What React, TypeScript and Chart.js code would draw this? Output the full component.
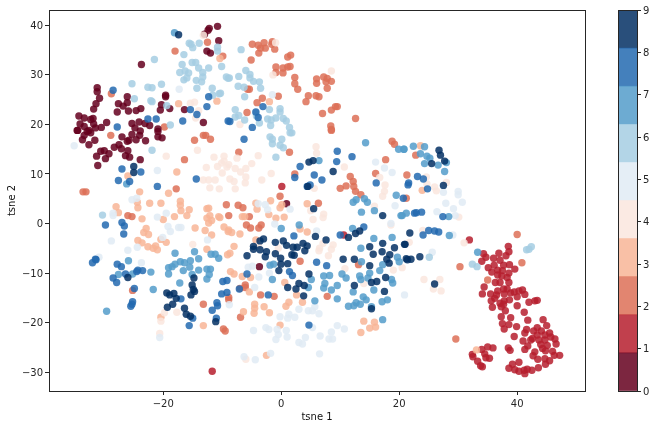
import React, { useEffect, useRef } from "react";
import { Chart, registerables } from "chart.js";

Chart.register(...registerables);

type P = [number, number];

const class0: P[] = [[-10.8,39.8],[-12.2,39.4],[-12.4,39],[-13,38.2],[-10.6,36.9],[-12.6,34.8],[-12,34.4],[-23.7,32.1],[-31.2,27.4],[-31.2,26.6],[-30.8,25.3],[-31.4,24.2],[-31.8,23.1],[-26.1,25.6],[-26.1,24.4],[-27.6,24.2],[-26.8,23.7],[-27.8,22.5],[-25.9,22.7],[-24.6,22.8],[-23.8,23.2],[-19.6,25.9],[-19.6,25.6],[-20.3,24],[-20.5,22.9],[-18.9,23.2],[-16.4,23],[-13.2,20.4],[-34.3,21.7],[-33.4,21.3],[-32.3,21],[-31.9,21.2],[-34.1,20.1],[-33.4,19.6],[-31.8,20.1],[-29.6,20.4],[-34.5,18.8],[-32.6,18.8],[-31.5,19.3],[-30.5,19.4],[-25.3,20.2],[-24.1,20.5],[-23.1,20.2],[-22.3,19.8],[-20.9,19.1],[-24.8,19.3],[-23.9,18.7],[-34.6,18.8],[-32.9,18.6],[-33.4,17.8],[-33.7,16.9],[-32.3,18.3],[-31.6,16.8],[-32.6,15.9],[-30.6,14.6],[-30,14.7],[-29.2,14.1],[-31.3,13.6],[-29.8,13.1],[-31.1,11.7],[-27,17.5],[-25.3,18],[-26.1,16.6],[-25.8,16.8],[-27.5,15.9],[-28.3,15.4],[-27.1,15.1],[-26,14.7],[-26.4,13.7],[-25.7,13.4],[-23.9,12.9],[-24,17.8],[-24.6,16.9],[-23,16.7],[-20.9,18.6],[-20.9,17.5],[-20.2,17.3],[0.9,4],[-3.7,-8.7]];

const class1: P[] = [[38.5,-4.6],[38.6,-5.7],[36.9,-6],[38.1,-6.5],[34.3,-6.1],[34.7,-6.8],[34,-7.6],[36,-7],[37.1,-7.4],[36.1,-8.4],[37.7,-8.4],[38.7,-8.3],[39.6,-9.2],[35.1,-8.9],[35.7,-9.8],[36.7,-9.4],[37.5,-9.5],[36.7,-10.4],[37.4,-10.6],[38.6,-10],[38.3,-10.9],[36.3,-11.9],[37.1,-11.9],[38.6,-11.9],[34.4,-12.8],[37.7,-13.2],[38.3,-13.2],[36.7,-13.6],[39.5,-13.8],[40.3,-13.6],[40.9,-13.4],[34.1,-14.2],[35.5,-14.2],[36.5,-14.4],[37.8,-14.2],[38.9,-14],[41.3,-14.3],[40,-14.8],[36.2,-15.1],[35.6,-15.6],[38.7,-15.4],[37.8,-15.6],[37.1,-16.1],[37.7,-16.3],[42,-15.9],[43,-15.6],[43.4,-15.5],[35.8,-16.9],[37.3,-16.8],[40,-16.6],[38,-17.6],[41.2,-17.9],[37.3,-18.8],[38.9,-19],[41.8,-19.5],[44.4,-19.4],[37.5,-20.2],[38.6,-20.4],[39.9,-20.8],[45,-20.6],[37.8,-21.3],[41.6,-21.4],[41.3,-22.1],[43.4,-21],[42.8,-21.7],[44.1,-21.7],[45.5,-22.1],[39.5,-22.8],[42.6,-23.2],[43.4,-22.5],[44.7,-22.5],[45.7,-22.9],[46.4,-23.3],[41,-23.7],[42.3,-23.5],[43.7,-23.5],[44.7,-23.5],[46.6,-24.3],[41.8,-24.7],[44,-24.4],[45.1,-24.6],[41.3,-25.4],[44.3,-25.2],[44.8,-25.7],[46,-25.8],[43,-25.9],[42.7,-26.7],[46.3,-26.6],[47.2,-26.6],[43.5,-27.4],[44.7,-27.3],[45.5,-27.7],[34,-25.4],[35,-24.9],[35.9,-25.1],[38.5,-25.1],[38.8,-25.6],[34.5,-26.3],[32.4,-26.4],[32.5,-26.9],[34.7,-27.1],[35.3,-27.2],[33.3,-27.8],[33.8,-28.7],[34.1,-28.9],[44.8,-28.4],[40.3,-28],[39.2,-28.4],[43.6,-29.1],[38.6,-29.2],[39.6,-29.5],[40.3,-29.8],[41.2,-29.6],[41.7,-29.4],[42.5,-29.6],[41.3,-30.3],[-11.7,-29.8],[0.1,7.5],[10.6,-2.3],[31.9,-3.3]];

const class2: P[] = [[-4.9,36.2],[-3.9,36],[-2.9,36.5],[-3.5,35.4],[-2.7,35.4],[-1.5,36.7],[-1.6,36.2],[-1.1,35.2],[-3.8,34.4],[-5.1,33],[1.6,34],[1.1,33.6],[-0.9,31.6],[0.3,31.4],[1.1,31.6],[1.5,31.7],[-0.9,30.5],[0.3,30.4],[2.3,29.5],[2.3,28.2],[2.8,27.1],[6,29.2],[6,28.3],[7.2,29.6],[7.8,29.3],[7.6,28.6],[8.5,28.7],[7.8,27.3],[4.6,25.8],[4.2,24.6],[5.9,25.8],[6.4,25.6],[-0.5,25.7],[-5.4,27.1],[-5.7,27.1],[-3.2,25.3],[-4.1,24.4],[-5.8,22.4],[7,22.2],[8.5,22.9],[9.2,23.6],[9.5,23.6],[12.6,21.2],[8.4,19.7],[8.5,19],[-9.9,33.8],[-18,34.8],[-12.5,36.6],[-28.8,26.2],[-19.8,19.5],[-33.6,6.4],[-33.1,6.4],[-28.9,17.8],[-14.7,16.8],[-13.2,17.8],[-12.8,17.8],[-12,17],[-16.4,12.9],[-17.8,7],[-9.3,3.8],[-26,1.6],[-25.3,1.4],[-8.9,1.6],[-7.2,14.4],[1.4,14.4],[2.3,10],[-0.2,5.5],[6.3,4.1],[-7.3,3.7],[-6.5,3.2],[-5.4,1.4],[-5.9,-0.3],[-5.2,-0.9],[-3.4,-0.3],[-3.8,-0.9],[8.5,18.8],[18.8,16.6],[19.2,16],[17.7,12.9],[16,10.1],[11.7,9.5],[12.2,8.5],[11,7.6],[10,7.1],[12.3,7.5],[12.6,6.5],[13.5,5.8],[22.8,13.8],[21.3,9.8],[21.2,5.1],[40,-2.2],[40.8,-7.9],[30.3,-8.7],[35,-11.4],[29.6,-23.3],[-25.2,-13.5],[-13.2,-16.3],[-9.8,-21.3],[-9.5,-21.7],[-8.9,-15.4],[-8.9,-14.9],[3.2,-7.6],[13.1,-8.3],[-6.1,-12.4],[-7,-13.1],[-6.1,-12.9],[-3.5,-14.4],[-1.2,-14.7],[7.8,-14.7],[-6.9,-18.9]];

const class3: P[] = [[-17.7,10.4],[-26,9.6],[-24,6.4],[-19.1,6.1],[-28,3.4],[-27.6,2.2],[-24.4,4.3],[-24.3,3.2],[-22.3,4.1],[-20.4,4.1],[-17.1,4.5],[-17.1,3.7],[-17,2.6],[-15.6,2.8],[-23.6,0.95],[-20,0.8],[-18.1,1.4],[-16,1.6],[-12.6,3],[-12.3,3.1],[-12.6,1.1],[-12.1,1.6],[-11.8,0.6],[-12.3,0.1],[-10.6,1.4],[-10.4,1.2],[-14.6,-0.9],[-12.9,-1.4],[-11.8,-2.3],[-9.7,-0.7],[-9,-1.6],[-22.9,-1],[-23.3,-1.8],[-22.5,-2.2],[-20.4,-3.2],[-19.5,-3.8],[-24.3,-3.4],[-23.6,-3.9],[-22.6,-4.7],[-21.3,-4.5],[-21.7,-5],[-21,-5.3],[-12.6,-5.2],[-1.8,4.6],[4.4,4],[-4.3,4.1],[-4.1,2.9],[-2.1,1.8],[-0.2,3.2],[0.1,3.8],[-0.9,1.1],[0.5,1.3],[-6.6,1.4],[-6.2,1.4],[-8.9,-1.3],[-8.4,-1.8],[-7,-2.1],[3.2,-1.1],[4.4,-1.7],[-4.3,-3.3],[-8,-4.6],[-8.7,-6],[-9.1,-6.3],[-2,24.6],[-17.4,24.2],[-10.9,24.7],[-10.4,33.3],[23.6,15.7],[23.9,6.7],[33.1,-25.5],[-8.6,-9.7],[-8,-10.2],[-6.6,-10.7],[-5.2,-10.9],[-5.4,-13.8],[0.6,-11.9],[2.6,-14.4],[1.3,-15.9],[0.8,-16.7],[3.6,-15.9],[-4.5,-16.3],[-4.5,-17.1],[-4.6,-18.1],[-2.9,-16.8],[-2,-18],[-6.4,-17.8],[-0.2,-20.5],[14,-19.7],[15.8,-19.9],[16,-20.9],[15,-21.1],[13.5,-22],[-2.5,-26.6],[-20.4,-18.9],[-13.2,-20.6]];

const class4: P[] = [[-19.5,13.6],[-14.2,14.8],[-11.4,13.4],[-9.7,13.6],[-9.7,12.6],[-10.8,11.5],[-12.7,11.3],[-9.2,11.4],[-10,10.2],[-13.2,8.8],[-12.3,8.8],[-11.2,8.8],[-12.1,7.2],[-10.5,7],[-15,-4.2],[5.9,15.5],[6,14.2],[-10.1,12.2],[-8.9,11.9],[-7.5,13.2],[-3.9,13.7],[-5,12.1],[-7.8,11.1],[-6,11.1],[-6.9,10.4],[-8.7,9],[-8,8.5],[-6,9.4],[-6.1,8.2],[-7.8,7],[-3.3,8.8],[-1.7,10.1],[5.6,7.1],[10.7,11.4],[16.7,9.3],[17.6,7.8],[17.5,6.5],[17.2,5.5],[15.8,3.5],[5,2.6],[7.2,1.9],[7.1,1.2],[5.4,0.8],[18.6,-0.3],[7.1,-4],[6.5,-5],[8.8,-4.3],[8.5,-5.2],[-0.5,-5],[-3.9,-4.4],[24.6,9.4],[24.7,8],[28,8.3],[26,7.4],[26.3,6.6],[30.1,1.3],[24,-1.4],[21.7,-3.8],[31,-3.9],[-13.2,38],[-15.4,24.3],[-14.7,24.5],[-14.5,21.3],[-14,22.8],[-0.95,36.5],[8.5,30.8],[-1.4,30],[-7,20],[8,-6.5],[10.8,-9.1],[14,-12.1],[19,-9.4],[20.5,-8.9],[6.4,-5.5],[-19.8,-18],[-20.4,-19.7],[-17.7,-17.9],[-20.6,-22.2],[26.9,-11.3],[27.1,-13.6],[-6,-27.4],[24.2,-11.3],[25.8,-13.2],[26,-12.2]];

const class5: P[] = [[-35.1,15.7],[-21,10.7],[-25.3,4.8],[-24.5,5.1],[-28.5,2.1],[-28.5,1.6],[-28.8,-3.5],[-26,-5.4],[-24.4,-4.8],[-21,1.3],[-19.5,2.1],[-19.2,-0.6],[-18.8,-1.6],[-17.4,-0.8],[-17,-0.8],[-20.1,-2.8],[-12.5,-3.3],[-30.9,-6.8],[-3.9,4],[-2.7,3.8],[-2.3,2.8],[1.5,2.9],[-1.1,-0.1],[6,-1.5],[16,12.4],[17.5,11.2],[18.8,10.3],[19.3,3.6],[18.6,0],[27.5,6.3],[30,6.5],[30,5.8],[30.7,4.3],[27.9,4.1],[29.2,3],[26.4,2.4],[29.5,1.6],[29.1,-2.3],[25.6,-5.8],[-17.3,27.1],[-1.5,26],[-23.7,-7.9],[-20.6,-23],[-0.2,-18.8],[1.3,-18.3],[1.1,-19.1],[2.3,-18.9],[3,-17.3],[4.6,-17.6],[5.3,-17.6],[5.7,-16.8],[6.4,-18.2],[5.3,-21],[-4.7,-21.6],[-2.6,-21],[-2.1,-21.4],[-0.7,-21.4],[-0.5,-22.4],[-0.9,-23.4],[0.85,-21.6],[1,-22.9],[4.1,-23],[3,-24],[3.6,-24.3],[6.6,-22.7],[8.1,-23.3],[8.7,-23.3],[8.5,-21.9],[9.5,-20.6],[10.7,-21.3],[-1.8,-26.2],[-6.3,-26.9],[-4.4,-27.5],[6.5,-26.3],[-8.8,-16.4],[-3.8,-10.8],[-4.5,-12.9],[-2,-10],[-5.6,-8.8],[-4.9,-8.6],[20.9,-14.4]];

const class6: P[] = [[-15.6,36.4],[-15.3,36.2],[-15,35.5],[-13.9,36.4],[-10.8,35.6],[-10.8,34.8],[-16.5,34.1],[-16.8,32.1],[-15.1,32.5],[-14.5,32.5],[-14,31.4],[-12.3,31.4],[-10.1,31.7],[-17.2,30.5],[-16.3,30.8],[-15.7,30.4],[-13.3,30.5],[-16.5,29],[-16,29.4],[-14.4,28.9],[-13.3,29.6],[-13.5,28.6],[-9.3,29.6],[-9,29.3],[-14.3,27.3],[-11.7,27.3],[-11.6,25.9],[-10.5,26.2],[-25.3,28.2],[-22.6,27.5],[-21.9,27.4],[-20.3,28.1],[-24.9,25.2],[-22.1,24.8],[-21.9,24.6],[-19.4,23.8],[-18.8,19.9],[-21.5,33.1],[-6.8,35.1],[-6,30.9],[-5.3,30.1],[-8.8,29.4],[-7.2,29.7],[-5.3,29.4],[-4.7,28.7],[-3.7,28.6],[-7.3,27.7],[-6.3,27.5],[-3.5,27.3],[-6.2,25.6],[-10.3,26.3],[-7.8,23],[-7.2,21.8],[-7.8,21.5],[-6.2,20.9],[-4.3,22.3],[-4.2,21.7],[-2,23],[-0.2,23.2],[-0.2,22.5],[-2.3,21.1],[-1.7,20.9],[-0.9,21.3],[0.35,21.2],[0.85,20.7],[1.4,19.4],[1.8,18.3],[-1.8,19.8],[-3.7,20.3],[-1.9,17.5],[-1.5,17],[-1.5,16.1],[0.1,17],[-0.2,15.8],[0.35,15.3],[-0.9,13.4],[1.5,18.3],[-21.9,14.8],[-30.3,1.7],[41.6,-5.3],[42,-5.2],[42.4,-4.7],[32.4,-8.2],[33.2,-8.7],[25.1,-6.8]];

const class7: P[] = [[-18.1,38.5],[-26.2,8],[-18,-6],[-14.7,-5.7],[-11.9,-6.2],[-11.2,-6.2],[-10.6,-7],[14.3,16.3],[19.9,15],[20.8,15],[6.4,12.7],[12.7,4.8],[12.2,4.3],[14.1,5],[14.6,4.3],[13.6,2.3],[15.8,2.6],[19.5,5.7],[20.5,1.6],[21.2,2.1],[3.05,-0.3],[12.1,-1],[18.8,-2.8],[15.7,-3],[13.5,-5],[0,-1],[22.4,15.6],[24.3,15.5],[20.8,15],[23.6,14.1],[24.7,13.6],[25.2,13.2],[24.3,12.1],[26.6,11.8],[28,12.3],[27.7,10.5],[20.3,1.6],[28.4,1.4],[28.5,-2.4],[33.3,-5.8],[-19.1,-8.9],[-18.5,-8.7],[-18,-8.2],[-17.1,-7.7],[-16.4,-7.9],[-15.4,-7.5],[-15.5,-8.8],[-19.1,-10.2],[-16.6,-9.5],[-14,-9.4],[-12.6,-9.2],[-12,-9.2],[-12.2,-10.3],[-12.6,-11.2],[-15.1,-10.3],[-17.2,-12],[-22.1,-9.8],[-25.9,-7.5],[-27.6,-10.3],[-25.2,-10.2],[-21.7,-13.3],[-29.6,-17.7],[-14,-7.1],[-1.5,-11.3],[-1.9,-8.4],[-1.3,-8.2],[5.1,-11.3],[4.6,-12.9],[7.2,-10.6],[8.2,-10.5],[7.4,-12.1],[7.2,-13],[8.5,-13.4],[9.5,-12.5],[10.3,-10.2],[11,-11],[9.5,-15.2],[5.7,-15.6],[13.3,-10.6],[13.5,-11.3],[12.2,-13.8],[15,-10],[14.7,-11],[15.7,-13.4],[13.9,-14.8],[14.4,-15.4],[12.7,-16],[12.3,-16.6],[11.4,-16.7],[13.4,-16.3],[15.3,-16.8],[17.1,-15.8],[18,-15.4],[17.2,-19.4],[16.7,-9.5],[17.2,-8.3],[18.7,-11.3],[18.9,-12],[19.7,-6.8],[20,-7.7],[13.6,-7.7]];

const class8: P[] = [[-28.5,26.9],[-12.3,25.6],[-12.6,23.6],[-15.4,23],[-14.3,22],[-16.7,20.7],[-21.2,21.1],[-22.6,21.1],[-9,20.7],[-27.8,19.5],[-27,11],[-23.8,10.4],[-27.6,8.7],[-25.7,8.5],[-21,7.5],[-14.4,9],[-27,0.2],[-26.6,-0.5],[-29.8,-0.3],[-26.7,-2.1],[-31.5,-7.2],[-3.1,23.6],[-4.3,22.5],[-3.9,21.4],[-8.7,20.6],[-4.9,19.4],[-6.3,17],[3.2,11.5],[5.6,9.8],[2.3,9.3],[6.9,8.8],[4.4,7.5],[4.9,7.8],[9.5,14.6],[12,13.5],[9.4,12.5],[16.1,8.2],[20.7,5.1],[21.5,7.8],[14,-0.7],[10,-2.3],[2.15,-2.5],[23.1,9.5],[24.1,9],[21.6,8.2],[24.8,7],[22.6,2.1],[22.9,2.2],[23.8,2.3],[27.4,1.4],[25,-1.4],[26,-1.5],[26.7,-1.7],[24.05,-2.3],[-32,-7.9],[-31.4,-7.3],[-27.8,-8.2],[-27.1,-8.7],[-26.4,-10.2],[-24.5,-9.7],[-24.3,-9.4],[-23.5,-9.5],[-28.5,-11],[-27.9,-11.9],[-24.9,-13.1],[-25.2,-15.8],[-25.3,-16.3],[-25.5,-16.7],[-17,-15.2],[-15,-19.1],[-15.6,-20.6],[-9.9,-11.7],[-9.2,-11.5],[-10.1,-14.2],[-9.2,-13.9],[-10.9,-16],[-10.8,-16.6],[-11.7,-17.5],[-11,-19.1],[-7.1,-13.2],[-2.2,-14.4],[1.4,-9.7],[1.9,-10.5],[4.7,-20.5],[6,-7.8],[7.7,-8.5],[-5.8,-10.2]];

const class9: P[] = [[4.7,12.4],[5.4,12.7],[8.8,10.5],[4.5,7.5],[5.5,3],[17.2,1.6],[5.8,-2.6],[7.6,-3.3],[0.35,-3.5],[-3,-3.1],[-3.6,-3.5],[-4.7,-4.6],[-4.7,-5.2],[-3.6,-5.3],[-2.5,-5.7],[-1,-3.8],[0.9,-4.4],[2,-4.8],[2.7,-4.8],[3.7,-4],[4.4,-4.5],[4,-5.5],[-1,-6.1],[-5.8,-6.5],[-2.7,-6.7],[-0.1,-7],[1.8,-6.3],[11.4,-2.8],[12.6,-2],[13.3,-1.5],[17.2,-4],[15,-4.7],[21,-4.2],[19.2,-4.9],[17.1,-5.7],[26.75,14.8],[27,13.8],[27.7,12.6],[25.5,12.1],[27.5,7.7],[21.8,-1.9],[20.9,-4.2],[23.5,-6.7],[22,-7.2],[21.2,-7.1],[-0.05,-8.2],[1.1,-8.1],[2.2,-6.4],[-0.4,-9.5],[4.7,-10.2],[3,-12.1],[3.9,-12.5],[2.5,-13.2],[1.1,-12.9],[3.8,-14.6],[10.5,-7.2],[12.4,-7.2],[15.6,-6.2],[18.4,-6.3],[17.9,-7.2],[18.3,-8],[21.4,-7.3],[15,-8.5],[17.7,-10.9],[16.2,-11.7],[15.3,-11.9],[12.4,-12.5],[17.5,-13.7],[15.3,-17.2],[-14.8,-11],[-15.1,-12.4],[-14.9,-13.3],[-14.7,-13.7],[-15.3,-14.4],[-19.4,-14],[-18.9,-14.4],[-18.2,-14.1],[-17.8,-15.1],[-18.4,-16.3],[-19.3,-16.9],[-16.4,-17.1],[-16.1,-18.3],[-15.4,-18.7],[-26,-10.9],[-11.1,-19.8],[-25,11.5],[-25,10.3],[-17.4,38.1],[26,-12.2]];

const classes = [class0, class1, class2, class3, class4, class5, class6, class7, class8, class9];
const classColors = [
  "rgba(101,0,30,0.85)", "rgba(182,30,46,0.85)", "rgba(221,112,87,0.85)", "rgba(248,181,150,0.85)",
  "rgba(250,230,222,0.85)", "rgba(224,235,244,0.85)", "rgba(166,206,227,0.85)", "rgba(84,156,202,0.85)",
  "rgba(35,106,176,0.85)", "rgba(4,48,100,0.85)",
];
const drawOrder = [8, 7, 9, 6, 5, 4, 3, 2, 1, 0];
const colorbarEdges = [0, 0.9, 1.8, 2.7, 3.6, 4.5, 5.4, 6.3, 7.2, 8.1, 9];

const INK = "#262626";
const FONT = "'DejaVu Sans'";
const fmt = (v: number | string) => String(v).replace("-", "\u2212");

const frame = {
  id: "frame",
  afterDatasetsDraw(chart: Chart) {
    const { ctx, chartArea: a } = chart;
    ctx.save();
    ctx.strokeStyle = INK;
    ctx.lineWidth = 1;
    ctx.strokeRect(Math.round(a.left) + 0.5, Math.round(a.top) + 0.5, Math.round(a.right - a.left), Math.round(a.bottom - a.top));
    ctx.restore();
  },
};

export default function App() {
  const mainRef = useRef<HTMLCanvasElement>(null);
  const barRef = useRef<HTMLCanvasElement>(null);

  useEffect(() => {
    const main = new Chart(mainRef.current!, {
      type: "scatter",
      data: {
        datasets: classes.map((pts, i) => ({
          label: String(i),
          data: pts.map(([x, y]) => ({ x, y })),
          backgroundColor: classColors[i],
          borderWidth: 0,
          pointRadius: 3.7,
          order: drawOrder[i],
        })),
      },
      options: {
        animation: false,
        responsive: false,
        layout: { padding: { top: 10, right: 72, left: 0, bottom: 0 } },
        plugins: { legend: { display: false }, tooltip: { enabled: false } },
        scales: {
          x: {
            type: "linear",
            min: -39.37,
            max: 51.5,
            grid: { drawOnChartArea: false, tickLength: 4, tickColor: INK },
            border: { display: false },
            ticks: {
              stepSize: 20,
              includeBounds: false,
              maxRotation: 0,
              padding: 3,
              color: INK,
              font: { family: FONT, size: 10 },
              callback: (v: any) => fmt(v),
            },
            title: { display: true, text: "tsne 1", color: "#111", font: { family: FONT, size: 10 }, padding: { top: 4, bottom: 6 } },
            afterFit: (s: any) => { s.height = 38; },
          },
          y: {
            type: "linear",
            min: -33.8,
            max: 43.1,
            grid: { drawOnChartArea: false, tickLength: 4, tickColor: INK },
            border: { display: false },
            ticks: {
              stepSize: 10,
              includeBounds: false,
              padding: 2,
              labelOffset: 1,
              color: INK,
              font: { family: FONT, size: 10 },
              callback: (v: any) => fmt(v),
            },
            title: { display: true, text: "tsne 2", color: "#111", font: { family: FONT, size: 10 }, padding: { top: 6, bottom: 0 } },
            afterFit: (s: any) => { s.width = 49; },
          },
        },
      },
      plugins: [frame],
    } as any);

    const bar = new Chart(barRef.current!, {
      type: "bar",
      data: {
        labels: [""],
        datasets: classColors.map((c, i) => ({
          label: String(i),
          data: [[colorbarEdges[i], colorbarEdges[i + 1]]],
          backgroundColor: c,
          borderWidth: 0,
          barPercentage: 1,
          categoryPercentage: 1,
        })),
      },
      options: {
        animation: false,
        responsive: false,
        layout: { padding: { top: 10, right: 0, left: 0, bottom: 38 } },
        plugins: { legend: { display: false }, tooltip: { enabled: false } },
        scales: {
          x: { stacked: true, display: false },
          y: {
            stacked: false,
            position: "right",
            min: 0,
            max: 9,
            grid: { drawOnChartArea: false, tickLength: 4, tickColor: INK },
            border: { display: false },
            ticks: { stepSize: 1, padding: 2, labelOffset: 1, color: INK, font: { family: FONT, size: 10 } },
            afterFit: (s: any) => { s.width = 20; },
          },
        },
      },
      plugins: [frame],
    } as any);

    return () => {
      main.destroy();
      bar.destroy();
    };
  }, []);

  return (
    <>
      <canvas ref={mainRef} width={657} height={429} style={{ position: "fixed", left: 0, top: 0, width: 657, height: 429 }} />
      <canvas ref={barRef} width={39} height={429} style={{ position: "fixed", left: 618, top: 0, width: 39, height: 429 }} />
    </>
  );
}
